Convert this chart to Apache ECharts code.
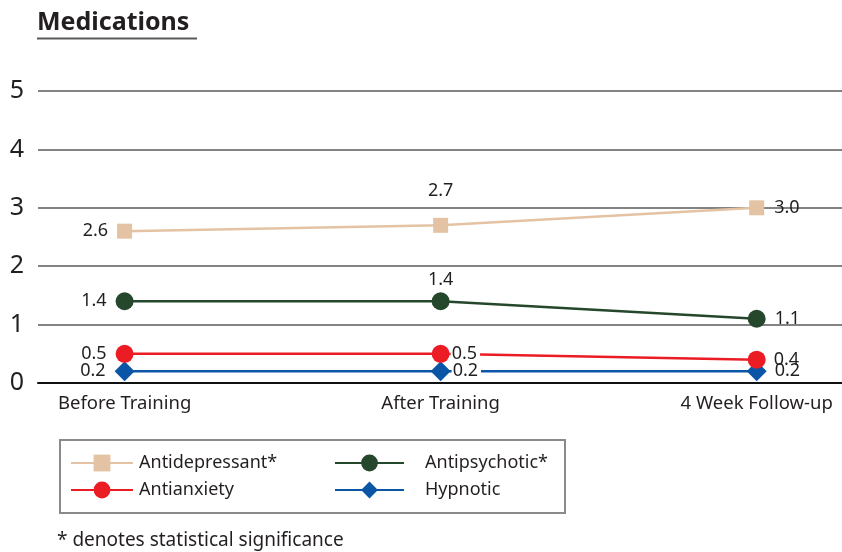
<!DOCTYPE html>
<html>
<head>
<meta charset="utf-8">
<script src="https://cdn.jsdelivr.net/npm/echarts@6/dist/echarts.min.js"></script>
<style>
  html, body { margin: 0; padding: 0; background: #fff; }
  #chart { width: 842px; height: 552px; }
</style>
</head>
<body>
<div id="chart"></div>
<script>
// Time points and mean number of medications per class
const categories = ['Before Training', 'After Training', '4 Week Follow-up'];
const seriesNames = ['Antidepressant*', 'Antipsychotic*', 'Antianxiety', 'Hypnotic'];
const antidepressant = [2.6, 2.7, 3.0];
const antipsychotic = [1.4, 1.4, 1.1];
const antianxiety = [0.5, 0.5, 0.4];
const hypnotic = [0.2, 0.2, 0.2];
const yTicks = [0, 1, 2, 3, 4, 5];

const FONT = '"Noto Sans", "Open Sans", sans-serif';
const TEXT = '#231f20';

// Visual style for each line: colour, marker, and where its value labels sit
const styles = [
  { color: '#e3c3a3', symbol: 'rect', size: 15,
    labels: [{ position: 'left', distance: 9 }, { position: 'top', distance: 18 }, { position: 'right', distance: 10 }] },
  { color: '#25472b', symbol: 'circle', size: 18,
    labels: [{ position: 'left', distance: 9 }, { position: 'top', distance: 3 }, { position: 'right', distance: 9 }] },
  { color: '#ec1c24', symbol: 'circle', size: 18,
    labels: [{ position: 'left', distance: 9 }, { position: 'right', distance: 1, gap: true }, { position: 'right', distance: 8 }] },
  { color: '#0a55a6', symbol: 'diamond', size: 20,
    labels: [{ position: 'left', distance: 9 }, { position: 'right', distance: 1, gap: true }, { position: 'right', distance: 8 }] }
];

const values = [antidepressant, antipsychotic, antianxiety, hypnotic];

const series = values.map((vals, s) => {
  const st = styles[s];
  return {
    name: seriesNames[s],
    type: 'line',
    data: vals.map((v, i) => {
      const l = st.labels[i];
      return {
        value: [i, v],
        label: {
          position: l.position,
          distance: l.distance,
          backgroundColor: l.gap ? '#fff' : 'transparent',
          padding: l.gap ? [0, 3, 0, 1] : 0
        }
      };
    }),
    symbol: st.symbol,
    symbolSize: st.size,
    showAllSymbol: true,
    z: 10 - s,
    itemStyle: { color: st.color },
    lineStyle: { color: st.color, width: 2.5 },
    label: {
      show: true,
      color: TEXT,
      fontFamily: FONT,
      fontSize: 18,
      formatter: p => p.value[1].toFixed(1)
    },
    emphasis: { disabled: true },
    animation: false
  };
});

const chart = echarts.init(document.getElementById('chart'), null, { renderer: 'canvas' });

const legendText = { color: TEXT, fontFamily: FONT, fontSize: 18 };

chart.setOption({
  backgroundColor: '#fff',
  animation: false,
  grid: { left: 38, right: 0, top: 91, bottom: 169, containLabel: false },
  xAxis: {
    type: 'value',
    min: -0.274,
    max: 2.27,
    splitLine: { show: false },
    axisTick: { show: false },
    axisLine: { show: true, lineStyle: { color: '#111', width: 2 } },
    axisLabel: {
      customValues: [0, 1, 2],
      formatter: v => categories[Math.round(v)] || '',
      color: TEXT,
      fontFamily: FONT,
      fontSize: 18.5,
      margin: 11
    }
  },
  yAxis: {
    type: 'value',
    min: yTicks[0],
    max: yTicks[yTicks.length - 1],
    interval: 1,
    axisLine: { show: false },
    axisTick: { show: false },
    splitLine: { show: true, lineStyle: { color: '#5a5a5a', width: 1.5 } },
    axisLabel: {
      color: TEXT,
      fontFamily: FONT,
      fontSize: 25,
      margin: 14,
      verticalAlign: 'middle',
      padding: [0, 0, 5, 0]
    }
  },
  legend: [
    {
      data: [seriesNames[0], seriesNames[2]],
      orient: 'vertical',
      left: 70,
      top: 454,
      padding: 0,
      itemWidth: 62,
      itemHeight: 21,
      itemGap: 9,
      textStyle: Object.assign({ padding: [0, 0, 0, 1] }, legendText),
      selectedMode: false
    },
    {
      data: [seriesNames[1], seriesNames[3]],
      orient: 'vertical',
      left: 334,
      top: 454,
      padding: 0,
      itemWidth: 69,
      itemHeight: 21,
      itemGap: 9,
      textStyle: Object.assign({ padding: [0, 0, 0, 16] }, legendText),
      selectedMode: false
    }
  ],
  graphic: [
    {
      type: 'text',
      left: 37,
      top: 10,
      style: { text: 'Medications', fill: TEXT, font: 'bold 25px ' + FONT }
    },
    {
      type: 'line',
      shape: { x1: 37, y1: 38.5, x2: 197, y2: 38.5 },
      style: { stroke: '#5a5a5a', lineWidth: 2 }
    },
    {
      type: 'rect',
      shape: { x: 60, y: 440, width: 505, height: 73 },
      style: { fill: 'none', stroke: '#8a8a8a', lineWidth: 2 },
      z: -1
    },
    {
      type: 'text',
      left: 57,
      top: 531,
      style: { text: '* denotes statistical significance', fill: TEXT, font: '19px ' + FONT }
    }
  ],
  series: series
});
</script>
</body>
</html>
